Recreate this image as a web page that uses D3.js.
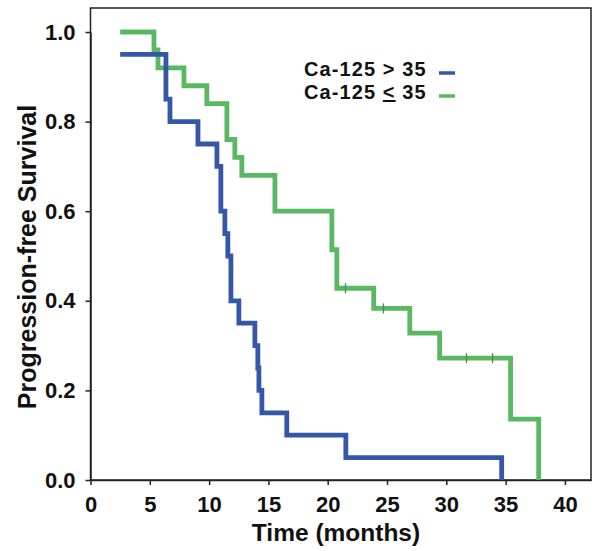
<!DOCTYPE html>
<html><head><meta charset="utf-8">
<script src="https://cdn.jsdelivr.net/npm/d3@7/dist/d3.min.js"></script>
<style>body{margin:0;background:#fff}svg{display:block}</style>
</head><body>
<svg id="c" width="600" height="551"></svg>
<script>
// Data
const xTicks = [0, 5, 10, 15, 20, 25, 30, 35, 40];
const yTicks = [0.0, 0.2, 0.4, 0.6, 0.8, 1.0];
const highTimes = [2.5, 6.36, 6.7, 9.06, 10.66, 10.99, 11.33, 11.58, 11.84, 12.51, 13.86, 14.11, 14.2, 14.45, 16.55, 21.53, 34.67];
const highSurv  = [0.95, 0.85, 0.80, 0.75, 0.70, 0.60, 0.55, 0.50, 0.40, 0.35, 0.30, 0.25, 0.20, 0.15, 0.10, 0.05, 0.0];
const lowTimes = [2.5, 5.35, 5.69, 7.88, 9.81, 11.5, 12.17, 12.76, 15.55, 20.35, 20.77, 23.88, 26.92, 29.44, 35.42, 37.79];
const lowSurv  = [1.0, 0.96, 0.92, 0.88, 0.84, 0.76, 0.72, 0.68, 0.60, 0.514, 0.428, 0.383, 0.328, 0.272, 0.136, 0.0];
const lowCensorTimes = [21.5, 24.7, 31.7, 33.9];
const lowCensorSurv  = [0.428, 0.383, 0.272, 0.272];
const legendLabels = ["Ca-125 > 35", "Ca-125 ≤ 35"];

const font = "'Liberation Sans', Arial, Helvetica, sans-serif";
const blue = "#3557a7", green = "#5bb862";
const svg = d3.select("#c");
const L = 90.5, R = 591, T = 8, B = 480;
const x = d3.scaleLinear().domain([0, 42.2]).range([L, R]);
const y = d3.scaleLinear().domain([0, 1]).range([B, 32]);

// frame
svg.append("rect").attr("x", L).attr("y", T).attr("width", R - L).attr("height", B - T)
  .attr("fill", "none").attr("stroke", "#222").attr("stroke-width", 1.5);

const xa = svg.append("g").attr("transform", `translate(0,${B})`)
  .call(d3.axisBottom(x).tickValues(xTicks).tickFormat(d3.format("d")).tickSize(5).tickPadding(11).tickSizeOuter(0));
const ya = svg.append("g").attr("transform", `translate(${L},0)`)
  .call(d3.axisLeft(y).tickValues(yTicks).tickFormat(d3.format(".1f")).tickSize(5).tickPadding(10).tickSizeOuter(0));
[xa, ya].forEach(a => {
  a.select(".domain").attr("stroke", "#222").attr("stroke-width", 1.5);
  a.selectAll(".tick line").attr("stroke", "#222").attr("stroke-width", 1.5);
  a.selectAll("text").attr("font-family", font).attr("font-weight", "bold").attr("font-size", 22).attr("fill", "#111");
});

// titles
svg.append("text").attr("x", 336).attr("y", 541).attr("text-anchor", "middle")
  .attr("font-family", font).attr("font-weight", "bold").attr("font-size", 24.5).attr("fill", "#111")
  .text("Time (months)");
svg.append("text").attr("transform", "translate(36,257) rotate(-90)").attr("text-anchor", "middle")
  .attr("font-family", font).attr("font-weight", "bold").attr("font-size", 25).attr("fill", "#111")
  .text("Progression-free Survival");

// curves
const line = d3.line().x(d => x(d[0])).y(d => y(d[1])).curve(d3.curveStepAfter);
const pts = (ts, ss) => ts.map((t, i) => [t, ss[i]]);
svg.append("path").attr("d", line(pts(lowTimes, lowSurv))).attr("fill", "none").attr("stroke", green)
  .attr("stroke-width", 4.8);
svg.append("path").attr("d", line(pts(highTimes, highSurv))).attr("fill", "none").attr("stroke", blue)
  .attr("stroke-width", 4.8);

// censor marks
svg.append("g").selectAll("line").data(pts(lowCensorTimes, lowCensorSurv)).join("line")
  .attr("x1", d => x(d[0])).attr("x2", d => x(d[0]))
  .attr("y1", d => y(d[1]) - 5).attr("y2", d => y(d[1]) + 5)
  .attr("stroke", "#3f8f47").attr("stroke-width", 1.3);

// legend
const lg = svg.append("g");
const legColors = [blue, green];
legendLabels.forEach((lab, i) => {
  const ty = 76 + i * 23;
  const t = lg.append("text").attr("x", 304).attr("y", ty)
    .attr("font-family", font).attr("font-weight", "bold").attr("font-size", 20)
    .attr("letter-spacing", 1.1).attr("fill", "#111");
  if (i === 0) {
    t.text(lab);
  } else {
    t.append("tspan").text("Ca-125 ");
    t.append("tspan").attr("text-decoration", "underline").text("<");
    t.append("tspan").text(" 35");
  }
  lg.append("line").attr("x1", 439).attr("x2", 455).attr("y1", ty - 3).attr("y2", ty - 3)
    .attr("stroke", legColors[i]).attr("stroke-width", 3.5);
});
</script>
</body></html>
